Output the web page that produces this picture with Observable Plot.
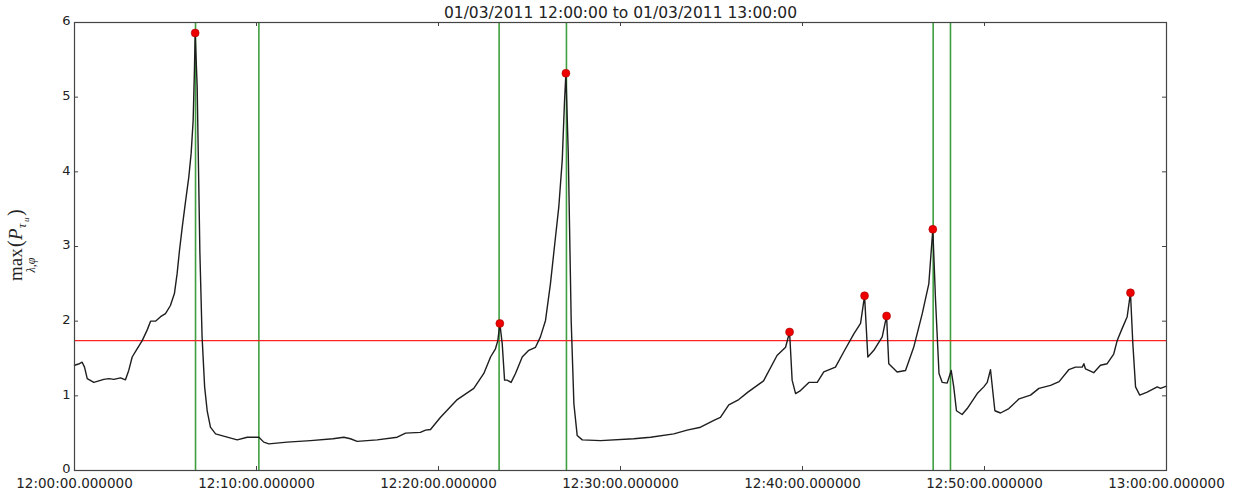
<!DOCTYPE html>
<html>
<head>
<meta charset="utf-8">
<script src="https://cdn.jsdelivr.net/npm/d3@7"></script>
<script src="https://cdn.jsdelivr.net/npm/@observablehq/plot@0.6"></script>
<style>
  html, body { margin: 0; padding: 0; background: #fff; }
  #chart svg { display: block; }
</style>
</head>
<body>
<div id="chart"></div>
<script>
const chartTitle = "01/03/2011 12:00:00 to 01/03/2011 13:00:00";

// minutes after 12:00:00
const seriesMinutes = [
  0.00, 0.27, 0.42, 0.55, 0.70, 1.06, 1.61, 1.90, 2.16, 2.53, 2.80, 2.98, 3.17, 3.44, 3.72, 3.99,
  4.18, 4.45, 4.73, 5.00, 5.27, 5.49, 5.64, 5.77, 5.92, 6.10, 6.28, 6.41, 6.52, 6.59, 6.63, 6.74,
  6.89, 7.01, 7.15, 7.29, 7.47, 7.75, 8.39, 8.94, 9.49, 10.13, 10.40, 10.68, 11.68, 12.97, 14.20, 14.80,
  15.16, 15.53, 16.63, 17.73, 18.19, 19.00, 19.29, 19.56, 20.10, 21.03, 21.94, 22.49, 22.86, 23.13, 23.26, 23.37,
  23.50, 23.63, 23.77, 23.99, 24.23, 24.60, 24.96, 25.33, 25.60, 25.88, 26.15, 26.43, 26.61, 26.80, 26.92, 27.00,
  27.13, 27.29, 27.44, 27.62, 27.90, 28.90, 30.73, 31.65, 32.93, 33.66, 34.40, 35.13, 35.49, 35.95, 36.50, 37.00,
  37.86, 38.60, 39.07, 39.29, 39.43, 39.62, 39.89, 40.35, 40.81, 41.17, 41.81, 42.27, 42.82, 43.19, 43.41, 43.59,
  43.92, 44.38, 44.62, 44.74, 45.20, 45.66, 46.11, 46.58, 46.94, 47.16, 47.31, 47.50, 47.68, 47.95, 48.17, 48.31,
  48.46, 48.77, 49.05, 49.60, 49.96, 50.15, 50.33, 50.57, 50.88, 51.34, 51.90, 52.53, 52.99, 53.63, 54.10, 54.63,
  55.00, 55.37, 55.46, 55.55, 56.00, 56.37, 56.74, 57.10, 57.29, 57.56, 57.84, 58.02, 58.15, 58.30, 58.53, 58.94,
  59.49, 59.67, 60.00
];
const seriesValues = [
  1.41, 1.43, 1.45, 1.385, 1.23, 1.18, 1.22, 1.23, 1.22, 1.24, 1.215, 1.34, 1.52, 1.63, 1.74, 1.88,
  2.00, 2.00, 2.06, 2.10, 2.21, 2.37, 2.64, 2.95, 3.26, 3.60, 3.93, 4.25, 4.69, 5.36, 5.86, 5.14,
  2.91, 1.79, 1.12, 0.80, 0.58, 0.49, 0.446, 0.41, 0.446, 0.446, 0.38, 0.357, 0.38, 0.40, 0.425, 0.446,
  0.425, 0.39, 0.41, 0.446, 0.50, 0.51, 0.54, 0.55, 0.71, 0.95, 1.10, 1.30, 1.52, 1.63, 1.74, 1.97,
  1.70, 1.21, 1.21, 1.18, 1.30, 1.52, 1.61, 1.65, 1.79, 2.01, 2.50, 3.13, 3.53, 4.16, 4.92, 5.32,
  4.25, 2.01, 0.89, 0.47, 0.41, 0.40, 0.425, 0.446, 0.49, 0.54, 0.58, 0.67, 0.71, 0.88, 0.95, 1.05,
  1.20, 1.54, 1.65, 1.855, 1.21, 1.03, 1.07, 1.18, 1.18, 1.32, 1.385, 1.59, 1.83, 1.97, 2.34, 1.52,
  1.61, 1.79, 2.07, 1.43, 1.32, 1.34, 1.65, 2.10, 2.50, 3.23, 2.28, 1.30, 1.18, 1.17, 1.34, 1.12,
  0.80, 0.75, 0.83, 1.03, 1.12, 1.18, 1.35, 0.80, 0.77, 0.83, 0.96, 1.01, 1.10, 1.14, 1.19, 1.35,
  1.385, 1.385, 1.43, 1.36, 1.31, 1.41, 1.43, 1.56, 1.74, 1.90, 2.06, 2.38, 1.70, 1.12, 1.01, 1.05,
  1.12, 1.10, 1.13
];

const peakMinutes = [6.63, 23.37, 27.00, 39.29, 43.41, 44.62, 47.16, 58.02];
const peakValues  = [5.86, 1.97, 5.32, 1.855, 2.34, 2.07, 3.23, 2.38];

const eventMinutes = [6.65, 10.13, 23.33, 27.03, 47.18, 48.13];
const thresholdValue = 1.74;

const xTickValues = [0, 10, 20, 30, 40, 50, 60];
const xTickLabels = ["12:00:00.000000", "12:10:00.000000", "12:20:00.000000", "12:30:00.000000",
                     "12:40:00.000000", "12:50:00.000000", "13:00:00.000000"];
const yTickValues = [0, 1, 2, 3, 4, 5, 6];

const series = seriesMinutes.map((t, i) => ({t, v: seriesValues[i]}));
const peaks = peakMinutes.map((t, i) => ({t, v: peakValues[i]}));
const xLabel = d => xTickLabels[xTickValues.indexOf(d)];

const W = 1234, H = 494, ML = 74, MR = 68, MT = 22, MB = 24;
const frameW = W - ML - MR, frameH = H - MT - MB, TICK = 4;
const axisStroke = "#444";

const plot = Plot.plot({
  width: W,
  height: H,
  marginLeft: ML,
  marginRight: MR,
  marginTop: MT,
  marginBottom: MB,
  style: {background: "#fff", color: "#222", fontFamily: "DejaVu Sans, sans-serif", fontSize: "13.5px", overflow: "visible"},
  x: {domain: [0, 60]},
  y: {domain: [0, 6]},
  marks: [
    Plot.ruleX(eventMinutes, {x: d => d, stroke: "#3f9f3f", strokeWidth: 1.6}),
    Plot.ruleY([thresholdValue], {y: d => d, stroke: "#f22", strokeWidth: 1.3}),
    Plot.line(series, {x: "t", y: "v", stroke: "#1e1e1e", strokeWidth: 1.4, strokeLinejoin: "round"}),
    Plot.dot(peaks, {x: "t", y: "v", r: 4, fill: "#ee0000", stroke: "#990000", strokeWidth: 0.5}),
    // inward ticks on all four sides
    Plot.tickX(xTickValues, {x: d => d, insetTop: frameH - TICK, stroke: axisStroke}),
    Plot.tickX(xTickValues, {x: d => d, insetBottom: frameH - TICK, stroke: axisStroke}),
    Plot.tickY(yTickValues, {y: d => d, insetRight: frameW - TICK, stroke: axisStroke}),
    Plot.tickY(yTickValues, {y: d => d, insetLeft: frameW - TICK, stroke: axisStroke}),
    Plot.frame({stroke: axisStroke, strokeWidth: 1.2}),
    Plot.axisX({anchor: "bottom", ticks: xTickValues, tickFormat: xLabel, tickSize: 0, tickPadding: 8, label: null, fontSize: 13.5}),
    Plot.axisY({anchor: "left", ticks: yTickValues, tickFormat: d => String(d), tickSize: 0, tickPadding: 4, dy: -1.5, label: null, fontSize: 13}),
    Plot.text([chartTitle], {text: d => d, frameAnchor: "top", lineAnchor: "bottom", dy: -5, fontSize: 15.5, fill: "#222"})
  ]
});

document.getElementById("chart").appendChild(plot);

// y-axis label: max_{λ,φ}(P_{τ_u})
const svg = d3.select(plot);
const g = svg.append("g")
  .attr("transform", "translate(22,281) rotate(-90)")
  .attr("font-family", "Liberation Serif, DejaVu Serif, serif")
  .attr("text-anchor", "start")
  .attr("fill", "#222");
g.append("text").attr("x", 0).attr("y", 0).attr("font-size", 19).text("max");
g.append("text").attr("x", 16).attr("y", 13).attr("font-size", 12).attr("font-style", "italic").attr("text-anchor", "middle").text("λ,φ");
g.append("text").attr("x", 34).attr("y", 0).attr("font-size", 20).text("(");
g.append("text").attr("x", 41).attr("y", 0).attr("font-size", 19).attr("font-style", "italic").text("P");
g.append("text").attr("x", 53).attr("y", 4).attr("font-size", 12).attr("font-style", "italic").text("τ");
g.append("text").attr("x", 59).attr("y", 7).attr("font-size", 9).attr("font-style", "italic").text("u");
g.append("text").attr("x", 65).attr("y", 0).attr("font-size", 20).text(")");
</script>
</body>
</html>
